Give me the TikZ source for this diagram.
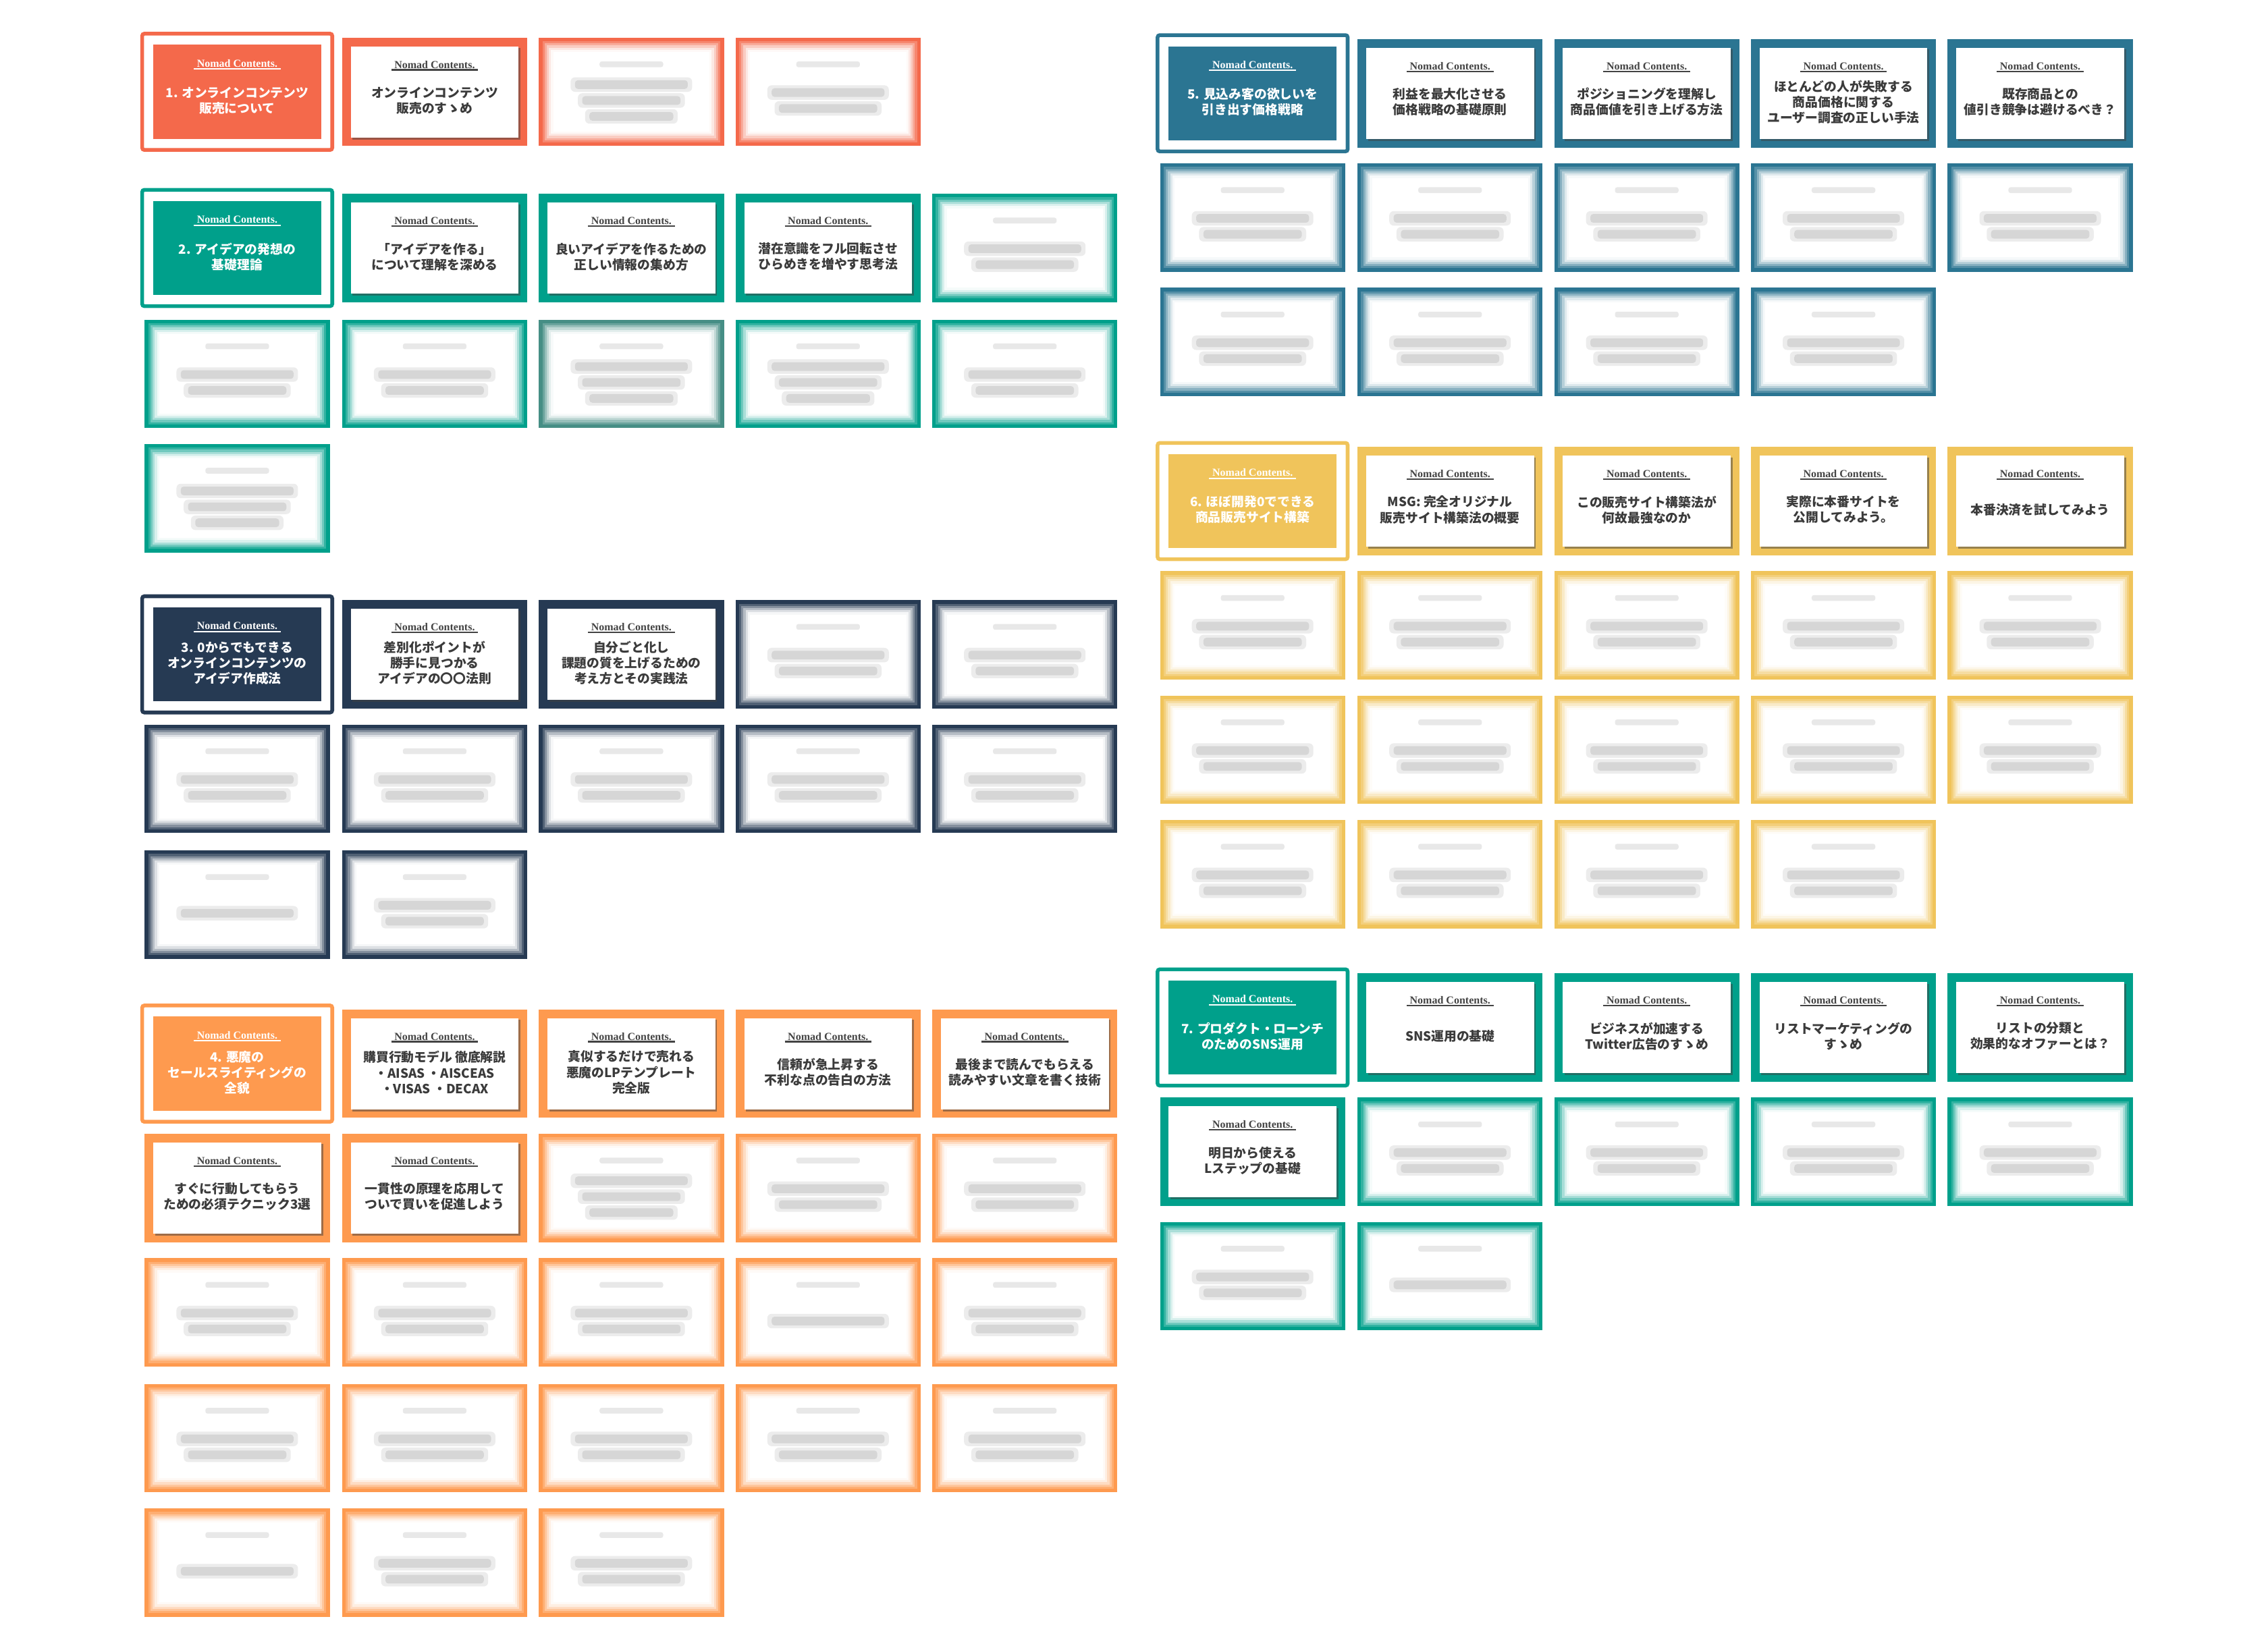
\documentclass[tikz,border=0pt]{standalone}
\usepackage{fontspec}
\usepackage{tikz}
\newfontfamily\jp{Noto Sans CJK JP}
\newfontfamily\brandfont{Liberation Serif}
\definecolor{secA}{HTML}{F4694B}
\definecolor{secB}{HTML}{00A08B}
\definecolor{secC}{HTML}{263A53}
\definecolor{secD}{HTML}{FE9A4F}
\definecolor{secE}{HTML}{2B7592}
\definecolor{secF}{HTML}{F0C45B}
\definecolor{secG}{HTML}{00A08B}
\definecolor{bodygray}{HTML}{3B3B3B}
\definecolor{linegray}{HTML}{444444}
\tikzset{
  brand/.style={font=\brandfont\bfseries\fontsize{7.5}{8}\selectfont, inner sep=0pt, text=linegray},
  brandline/.style={line width=1bp, draw=linegray},
  body/.style={align=center, inner sep=0pt, text=bodygray, font=\jp\bfseries\fontsize{8.8}{10.8}\selectfont},
  headbody/.style={body, text=white},
  cardbase/.style={rectangle, inner sep=0pt, minimum width=128bp, minimum height=75bp, draw=none},
  card/.style={cardbase, fill=#1,
    path picture={
      \fill[black!75, opacity=.5, sharp corners] ([shift={(-56.8bp,30.3bp)}]path picture bounding box.center)
        rectangle ([shift={(59.3bp,-32.9bp)}]path picture bounding box.center);
      \fill[white, sharp corners] ([shift={(-58bp,31.5bp)}]path picture bounding box.center)
        rectangle ([shift={(58bp,-31.5bp)}]path picture bounding box.center);
      \node[brand] at ([yshift=18.8bp]path picture bounding box.center) {Nomad Contents.};
      \draw[brandline] ([shift={(-30bp,15.2bp)}]path picture bounding box.center)
        -- ([shift={(30bp,15.2bp)}]path picture bounding box.center);
    }},
  blurcard/.style 2 args={cardbase, fill=#1,
    path picture={
      \foreach \d/\o in {2.5bp/.2,4bp/.3,5.5bp/.4,7bp/.55,8.5bp/.75,10bp/1}
        \fill[white, opacity=\o, sharp corners] ([xshift=\d,yshift=-\d]path picture bounding box.north west)
          rectangle ([xshift=-\d,yshift=\d]path picture bounding box.south east);
      \fill[black!40, opacity=.22, rounded corners=1.5bp] ([shift={(-22bp,17bp)}]path picture bounding box.center)
        rectangle ([shift={(22bp,21bp)}]path picture bounding box.center);
      \foreach \k in {1,...,#2} {
        \pgfmathsetlengthmacro\ly{-(6+(\k-(#2+1)/2)*11)*1bp}
        \pgfmathsetlengthmacro\lw{(44-5*\k)*1bp}
        \fill[black!45, opacity=.16, rounded corners=3bp] ([shift={(-\lw-3bp,\ly-5bp)}]path picture bounding box.center)
          rectangle ([shift={(\lw+3bp,\ly+5bp)}]path picture bounding box.center);
        \fill[black!50, opacity=.2, rounded corners=2bp] ([shift={(-\lw,\ly-3bp)}]path picture bounding box.center)
          rectangle ([shift={(\lw,\ly+3bp)}]path picture bounding box.center);
      }
    }},
  headcard/.style={rectangle, inner sep=0pt, minimum width=131.4bp, minimum height=80.4bp, draw=#1, line width=2.6bp, rounded corners=1.5bp, fill=white,
    path picture={
      \fill[#1, sharp corners] ([shift={(-58bp,32.5bp)}]path picture bounding box.center)
        rectangle ([shift={(58bp,-32.5bp)}]path picture bounding box.center);
      \node[brand, text=white] at ([yshift=19.7bp]path picture bounding box.center) {Nomad Contents.};
      \draw[brandline, draw=white, sharp corners] ([shift={(-30bp,15.8bp)}]path picture bounding box.center)
        -- ([shift={(30bp,15.8bp)}]path picture bounding box.center);
    }},
}
\begin{document}
\begin{tikzpicture}
\useasboundingbox (0bp,0bp) rectangle (1568bp,1138bp);
%% 1
\node (card_1_1) at (164bp,1074.5bp) [headcard=secA] {};
  \node (card_1_2) at (300.5bp,1074.5bp) [card=secA] {};
  \node (card_1_3) at (436.5bp,1074.5bp) [blurcard={secA}{3}] {};
  \node (card_1_4) at (572.5bp,1074.5bp) [blurcard={secA}{2}] {};
  \node (text_1_1) at (164bp,1068.5bp) [headbody] {1. オンラインコンテンツ\\販売について};
  \node (text_1_2) at (300.5bp,1068.5bp) [body] {オンラインコンテンツ\\販売のすゝめ};
%% 2
\node (card_2_1) at (164bp,966.5bp) [headcard=secB] {};
  \node (card_2_2) at (300.5bp,966.5bp) [card=secB] {};
  \node (card_2_3) at (436.5bp,966.5bp) [card=secB] {};
  \node (card_2_4) at (572.5bp,966.5bp) [card=secB] {};
  \node (card_2_5) at (708.5bp,966.5bp) [blurcard={secB}{2}] {};
  \node (card_2_6) at (164bp,879.5bp) [blurcard={secB}{2}] {};
  \node (card_2_7) at (300.5bp,879.5bp) [blurcard={secB}{2}] {};
  \node (card_2_8) at (436.5bp,879.5bp) [blurcard={secB!45!gray}{3}] {};
  \node (card_2_9) at (572.5bp,879.5bp) [blurcard={secB}{3}] {};
  \node (card_2_10) at (708.5bp,879.5bp) [blurcard={secB}{2}] {};
  \node (card_2_11) at (164bp,793.5bp) [blurcard={secB}{3}] {};
  \node (text_2_1) at (164bp,960.5bp) [headbody] {2. アイデアの発想の\\基礎理論};
  \node (text_2_2) at (300.5bp,960.5bp) [body] {「アイデアを作る」\\について理解を深める};
  \node (text_2_3) at (436.5bp,960.5bp) [body] {良いアイデアを作るための\\正しい情報の集め方};
  \node (text_2_4) at (572.5bp,960.5bp) [body] {潜在意識をフル回転させ\\ひらめきを増やす思考法};
%% 3
\node (card_3_1) at (164bp,685.5bp) [headcard=secC] {};
  \node (card_3_2) at (300.5bp,685.5bp) [card=secC] {};
  \node (card_3_3) at (436.5bp,685.5bp) [card=secC] {};
  \node (card_3_4) at (572.5bp,685.5bp) [blurcard={secC}{2}] {};
  \node (card_3_5) at (708.5bp,685.5bp) [blurcard={secC}{2}] {};
  \node (card_3_6) at (164bp,599.5bp) [blurcard={secC}{2}] {};
  \node (card_3_7) at (300.5bp,599.5bp) [blurcard={secC}{2}] {};
  \node (card_3_8) at (436.5bp,599.5bp) [blurcard={secC}{2}] {};
  \node (card_3_9) at (572.5bp,599.5bp) [blurcard={secC}{2}] {};
  \node (card_3_10) at (708.5bp,599.5bp) [blurcard={secC}{2}] {};
  \node (card_3_11) at (164bp,512.5bp) [blurcard={secC}{1}] {};
  \node (card_3_12) at (300.5bp,512.5bp) [blurcard={secC}{2}] {};
  \node (text_3_1) at (164bp,679.5bp) [headbody] {3. 0からでもできる\\オンラインコンテンツの\\アイデア作成法};
  \node (text_3_2) at (300.5bp,679.5bp) [body] {差別化ポイントが\\勝手に見つかる\\アイデアの〇〇法則};
  \node (text_3_3) at (436.5bp,679.5bp) [body] {自分ごと化し\\課題の質を上げるための\\考え方とその実践法};
%% 4
\node (card_4_1) at (164bp,402.5bp) [headcard=secD] {};
  \node (card_4_2) at (300.5bp,402.5bp) [card=secD] {};
  \node (card_4_3) at (436.5bp,402.5bp) [card=secD] {};
  \node (card_4_4) at (572.5bp,402.5bp) [card=secD] {};
  \node (card_4_5) at (708.5bp,402.5bp) [card=secD] {};
  \node (card_4_6) at (164bp,316.5bp) [card=secD] {};
  \node (card_4_7) at (300.5bp,316.5bp) [card=secD] {};
  \node (card_4_8) at (436.5bp,316.5bp) [blurcard={secD}{3}] {};
  \node (card_4_9) at (572.5bp,316.5bp) [blurcard={secD}{2}] {};
  \node (card_4_10) at (708.5bp,316.5bp) [blurcard={secD}{2}] {};
  \node (card_4_11) at (164bp,230.5bp) [blurcard={secD}{2}] {};
  \node (card_4_12) at (300.5bp,230.5bp) [blurcard={secD}{2}] {};
  \node (card_4_13) at (436.5bp,230.5bp) [blurcard={secD}{2}] {};
  \node (card_4_14) at (572.5bp,230.5bp) [blurcard={secD}{1}] {};
  \node (card_4_15) at (708.5bp,230.5bp) [blurcard={secD}{2}] {};
  \node (card_4_16) at (164bp,143.5bp) [blurcard={secD}{2}] {};
  \node (card_4_17) at (300.5bp,143.5bp) [blurcard={secD}{2}] {};
  \node (card_4_18) at (436.5bp,143.5bp) [blurcard={secD}{2}] {};
  \node (card_4_19) at (572.5bp,143.5bp) [blurcard={secD}{2}] {};
  \node (card_4_20) at (708.5bp,143.5bp) [blurcard={secD}{2}] {};
  \node (card_4_21) at (164bp,57.5bp) [blurcard={secD}{1}] {};
  \node (card_4_22) at (300.5bp,57.5bp) [blurcard={secD}{2}] {};
  \node (card_4_23) at (436.5bp,57.5bp) [blurcard={secD}{2}] {};
  \node (text_4_1) at (164bp,396.5bp) [headbody] {4. 悪魔の\\セールスライティングの\\全貌};
  \node (text_4_2) at (300.5bp,396.5bp) [body] {購買行動モデル 徹底解説\\・AISAS ・AISCEAS\\・VISAS ・DECAX};
  \node (text_4_3) at (436.5bp,396.5bp) [body] {真似するだけで売れる\\悪魔のLPテンプレート\\完全版};
  \node (text_4_4) at (572.5bp,396.5bp) [body] {信頼が急上昇する\\不利な点の告白の方法};
  \node (text_4_5) at (708.5bp,396.5bp) [body] {最後まで読んでもらえる\\読みやすい文章を書く技術};
  \node (text_4_6) at (164bp,310.5bp) [body] {すぐに行動してもらう\\ための必須テクニック3選};
  \node (text_4_7) at (300.5bp,310.5bp) [body] {一貫性の原理を応用して\\ついで買いを促進しよう};
%% 5
\node (card_5_1) at (866bp,1073.5bp) [headcard=secE] {};
  \node (card_5_2) at (1002.5bp,1073.5bp) [card=secE] {};
  \node (card_5_3) at (1138.5bp,1073.5bp) [card=secE] {};
  \node (card_5_4) at (1274.5bp,1073.5bp) [card=secE] {};
  \node (card_5_5) at (1410.5bp,1073.5bp) [card=secE] {};
  \node (card_5_6) at (866bp,987.5bp) [blurcard={secE}{2}] {};
  \node (card_5_7) at (1002.5bp,987.5bp) [blurcard={secE}{2}] {};
  \node (card_5_8) at (1138.5bp,987.5bp) [blurcard={secE}{2}] {};
  \node (card_5_9) at (1274.5bp,987.5bp) [blurcard={secE}{2}] {};
  \node (card_5_10) at (1410.5bp,987.5bp) [blurcard={secE}{2}] {};
  \node (card_5_11) at (866bp,901.5bp) [blurcard={secE}{2}] {};
  \node (card_5_12) at (1002.5bp,901.5bp) [blurcard={secE}{2}] {};
  \node (card_5_13) at (1138.5bp,901.5bp) [blurcard={secE}{2}] {};
  \node (card_5_14) at (1274.5bp,901.5bp) [blurcard={secE}{2}] {};
  \node (text_5_1) at (866bp,1067.5bp) [headbody] {5. 見込み客の欲しいを\\引き出す価格戦略};
  \node (text_5_2) at (1002.5bp,1067.5bp) [body] {利益を最大化させる\\価格戦略の基礎原則};
  \node (text_5_3) at (1138.5bp,1067.5bp) [body] {ポジショニングを理解し\\商品価値を引き上げる方法};
  \node (text_5_4) at (1274.5bp,1067.5bp) [body] {ほとんどの人が失敗する\\商品価格に関する\\ユーザー調査の正しい手法};
  \node (text_5_5) at (1410.5bp,1067.5bp) [body] {既存商品との\\値引き競争は避けるべき？};
%% 6
\node (card_6_1) at (866bp,791.5bp) [headcard=secF] {};
  \node (card_6_2) at (1002.5bp,791.5bp) [card=secF] {};
  \node (card_6_3) at (1138.5bp,791.5bp) [card=secF] {};
  \node (card_6_4) at (1274.5bp,791.5bp) [card=secF] {};
  \node (card_6_5) at (1410.5bp,791.5bp) [card=secF] {};
  \node (card_6_6) at (866bp,705.5bp) [blurcard={secF}{2}] {};
  \node (card_6_7) at (1002.5bp,705.5bp) [blurcard={secF}{2}] {};
  \node (card_6_8) at (1138.5bp,705.5bp) [blurcard={secF}{2}] {};
  \node (card_6_9) at (1274.5bp,705.5bp) [blurcard={secF}{2}] {};
  \node (card_6_10) at (1410.5bp,705.5bp) [blurcard={secF}{2}] {};
  \node (card_6_11) at (866bp,619.5bp) [blurcard={secF}{2}] {};
  \node (card_6_12) at (1002.5bp,619.5bp) [blurcard={secF}{2}] {};
  \node (card_6_13) at (1138.5bp,619.5bp) [blurcard={secF}{2}] {};
  \node (card_6_14) at (1274.5bp,619.5bp) [blurcard={secF}{2}] {};
  \node (card_6_15) at (1410.5bp,619.5bp) [blurcard={secF}{2}] {};
  \node (card_6_16) at (866bp,533.5bp) [blurcard={secF}{2}] {};
  \node (card_6_17) at (1002.5bp,533.5bp) [blurcard={secF}{2}] {};
  \node (card_6_18) at (1138.5bp,533.5bp) [blurcard={secF}{2}] {};
  \node (card_6_19) at (1274.5bp,533.5bp) [blurcard={secF}{2}] {};
  \node (text_6_1) at (866bp,785.5bp) [headbody] {6. ほぼ開発0でできる\\商品販売サイト構築};
  \node (text_6_2) at (1002.5bp,785.5bp) [body] {MSG: 完全オリジナル\\販売サイト構築法の概要};
  \node (text_6_3) at (1138.5bp,785.5bp) [body] {この販売サイト構築法が\\何故最強なのか};
  \node (text_6_4) at (1274.5bp,785.5bp) [body] {実際に本番サイトを\\公開してみよう。};
  \node (text_6_5) at (1410.5bp,785.5bp) [body] {本番決済を試してみよう};
%% 7
\node (card_7_1) at (866bp,427.5bp) [headcard=secG] {};
  \node (card_7_2) at (1002.5bp,427.5bp) [card=secG] {};
  \node (card_7_3) at (1138.5bp,427.5bp) [card=secG] {};
  \node (card_7_4) at (1274.5bp,427.5bp) [card=secG] {};
  \node (card_7_5) at (1410.5bp,427.5bp) [card=secG] {};
  \node (card_7_6) at (866bp,341.5bp) [card=secG] {};
  \node (card_7_7) at (1002.5bp,341.5bp) [blurcard={secG}{2}] {};
  \node (card_7_8) at (1138.5bp,341.5bp) [blurcard={secG}{2}] {};
  \node (card_7_9) at (1274.5bp,341.5bp) [blurcard={secG}{2}] {};
  \node (card_7_10) at (1410.5bp,341.5bp) [blurcard={secG}{2}] {};
  \node (card_7_11) at (866bp,255.5bp) [blurcard={secG}{2}] {};
  \node (card_7_12) at (1002.5bp,255.5bp) [blurcard={secG}{1}] {};
  \node (text_7_1) at (866bp,421.5bp) [headbody] {7. プロダクト・ローンチ\\のためのSNS運用};
  \node (text_7_2) at (1002.5bp,421.5bp) [body] {SNS運用の基礎};
  \node (text_7_3) at (1138.5bp,421.5bp) [body] {ビジネスが加速する\\Twitter広告のすゝめ};
  \node (text_7_4) at (1274.5bp,421.5bp) [body] {リストマーケティングの\\すゝめ};
  \node (text_7_5) at (1410.5bp,421.5bp) [body] {リストの分類と\\効果的なオファーとは？};
  \node (text_7_6) at (866bp,335.5bp) [body] {明日から使える\\Lステップの基礎};
%
\end{tikzpicture}
\end{document}
